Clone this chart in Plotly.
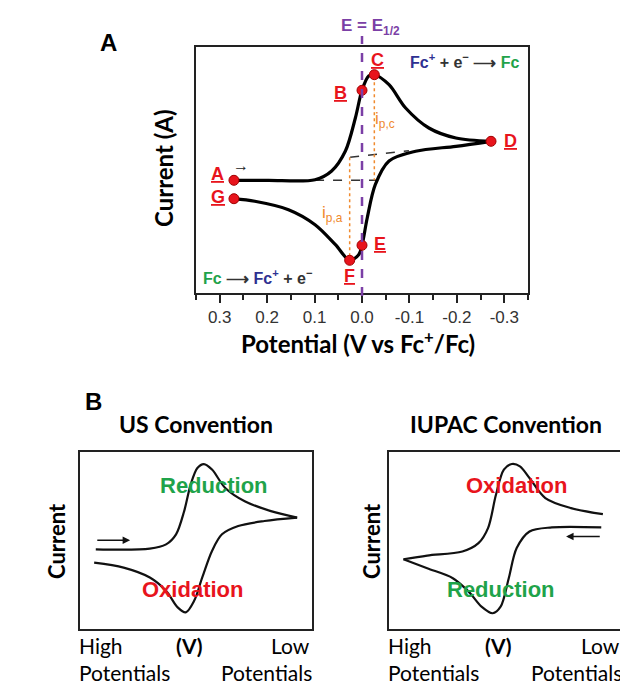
import plotly.graph_objects as go

W, H = 628, 687
def px(x): return x / W
def py(y): return 1 - y / H

# ---------------- Panel A data (potential in V vs Fc+/Fc, current arb. units) -------------
fwd_E = [0.270, 0.198, 0.099, 0.064, 0.035, 0.014, 0.0, -0.014, -0.026, -0.057, -0.092, -0.141, -0.198, -0.272]
fwd_I = [0.0, 0.0, 0.06, 0.93, 2.93, 6.23, 9.0, 10.43, 10.56, 9.56, 7.23, 5.23, 4.23, 3.9]
rev_E = [-0.272, -0.198, -0.113, -0.057, -0.028, -0.011, 0.0, 0.007, 0.026, 0.056, 0.099, 0.155, 0.226, 0.270]
rev_I = [3.9, 3.4, 2.9, 1.93, -0.44, -3.77, -6.5, -7.44, -8.0, -6.44, -4.44, -2.94, -2.1, -1.84]

pt_names = ["A", "B", "C", "D", "E", "F", "G"]
pt_E = [0.270, 0.0, -0.026, -0.272, 0.0, 0.026, 0.270]
pt_I = [0.0, 9.0, 10.56, 3.9, -6.5, -8.0, -1.84]

base_fwd_E = [0.099, -0.032]
base_fwd_I = [0.0, 0.0]
base_rev_E = [0.025, -0.099]
base_rev_I = [2.3, 2.96]
ipc_E, ipc_I = [-0.026, -0.026], [10.4, 0.0]
ipa_E, ipa_I = [0.026, 0.026], [2.3, -8.0]
E_half = 0.0

tick_vals = [0.3, 0.2, 0.1, 0.0, -0.1, -0.2, -0.3]
tick_text = ["0.3", "0.2", "0.1", "0.0", "-0.1", "-0.2", "-0.3"]

# ---------------- Panel B data (normalised sketch coordinates) ----------------
us_fwd_u = [0.068, 0.301, 0.371, 0.414, 0.449, 0.477, 0.506, 0.534, 0.569, 0.626, 0.710, 0.823, 0.936]
us_fwd_v = [0.450, 0.454, 0.478, 0.535, 0.666, 0.816, 0.910, 0.932, 0.901, 0.797, 0.722, 0.666, 0.629]
us_rev_u = [0.936, 0.795, 0.682, 0.612, 0.569, 0.527, 0.492, 0.456, 0.421, 0.371, 0.301, 0.188, 0.061]
us_rev_v = [0.629, 0.610, 0.582, 0.535, 0.441, 0.291, 0.159, 0.094, 0.122, 0.216, 0.291, 0.347, 0.375]

iu_up_u = [0.918, 0.781, 0.671, 0.603, 0.562, 0.527, 0.493, 0.459, 0.425, 0.384, 0.315, 0.164, 0.062]
iu_up_v = [0.649, 0.683, 0.740, 0.853, 0.919, 0.932, 0.900, 0.758, 0.570, 0.485, 0.438, 0.415, 0.394]
iu_lo_u = [0.062, 0.164, 0.274, 0.342, 0.397, 0.445, 0.479, 0.514, 0.548, 0.603, 0.699, 0.911]
iu_lo_v = [0.394, 0.343, 0.287, 0.211, 0.126, 0.089, 0.126, 0.287, 0.457, 0.551, 0.574, 0.574]

# ---------------- styles ----------------
ARIAL = "Liberation Sans, Arial, sans-serif"
CALIBRI = "Lato, Open Sans, sans-serif"
RED = "#e8141c"
GREEN = "#1fa34a"
BLUE = "#2e3192"
PURPLE = "#7b3fa6"
ORANGE = "#f08a2e"

fig = go.Figure()

# Panel A traces
for xs, ys in [(base_fwd_E, base_fwd_I), (base_rev_E, base_rev_I)]:
    fig.add_trace(go.Scatter(x=xs, y=ys, mode="lines", xaxis="x", yaxis="y",
                             line=dict(color="#333333", width=1.5, dash="dash"), showlegend=False))
for xs, ys in [(ipc_E, ipc_I), (ipa_E, ipa_I)]:
    fig.add_trace(go.Scatter(x=xs, y=ys, mode="lines", xaxis="x", yaxis="y",
                             line=dict(color=ORANGE, width=1.5, dash="dot"), showlegend=False))
for xs, ys in [(fwd_E, fwd_I), (rev_E, rev_I)]:
    fig.add_trace(go.Scatter(x=xs, y=ys, mode="lines", xaxis="x", yaxis="y",
                             line=dict(color="black", width=3.2, shape="spline", smoothing=0.9),
                             showlegend=False))
fig.add_trace(go.Scatter(x=pt_E, y=pt_I, mode="markers", xaxis="x", yaxis="y",
                         marker=dict(color=RED, size=10, line=dict(color="#a00000", width=1)),
                         showlegend=False))

# Panel B traces
for xs, ys, ax in [(us_fwd_u, us_fwd_v, "x2"), (us_rev_u, us_rev_v, "x2"),
                   (iu_up_u, iu_up_v, "x3"), (iu_lo_u, iu_lo_v, "x3")]:
    fig.add_trace(go.Scatter(x=xs, y=ys, mode="lines", xaxis=ax, yaxis=ax.replace("x", "y"),
                             line=dict(color="#111111", width=2.2, shape="spline", smoothing=0.9),
                             showlegend=False))

box_axis = dict(showline=True, mirror=True, linecolor="#222222", linewidth=2,
                showticklabels=False, ticks="", showgrid=False, zeroline=False, fixedrange=True)

A_l, A_r, A_t, A_b = 188, 520, 39, 285
US_l, US_r, B_t, B_b = 72, 304, 444, 621
IU_l, IU_r = 381, 614

fig.update_layout(
    width=W, height=H, margin=dict(l=0, r=0, t=0, b=0),
    paper_bgcolor="white", plot_bgcolor="white",
    xaxis=dict(domain=[px(A_l), px(A_r)], anchor="y", range=[0.35, -0.35], showline=True, mirror=True,
               linecolor="#222222", linewidth=2, ticks="outside", ticklen=8, tickwidth=1.5,
               tickcolor="#222222", tickvals=tick_vals, ticktext=tick_text,
               tickfont=dict(family=ARIAL, size=17, color="#333333"),
               minor=dict(ticks="outside", ticklen=5, tickwidth=1.5, tickcolor="#222222", dtick=0.05, tick0=0.05),
               showgrid=False, zeroline=False),
    yaxis=dict(domain=[py(A_b), py(A_t)], anchor="x", range=[-11.27, 13.33], showline=True, mirror=True,
               linecolor="#222222", linewidth=2, showticklabels=False, ticks="",
               showgrid=False, zeroline=False),
    xaxis2=dict(domain=[px(US_l), px(US_r)], anchor="y2", range=[0, 1], **box_axis),
    yaxis2=dict(domain=[py(B_b), py(B_t)], anchor="x2", range=[0, 1], **box_axis),
    xaxis3=dict(domain=[px(IU_l), px(IU_r)], anchor="y3", range=[0, 1], **box_axis),
    yaxis3=dict(domain=[py(B_b), py(B_t)], anchor="x3", range=[0, 1], **box_axis),
)

# E = E1/2 dashed line
fig.add_shape(type="line", xref="x", yref="paper", x0=E_half, x1=E_half, y0=py(A_b + 3), y1=py(28),
              line=dict(color=PURPLE, width=2.5, dash="dash"))

ann = []
def txt(x, y, t, size, color="black", family=ARIAL, xref="paper", yref="paper", angle=0,
        xanchor="center", yanchor="middle", xshift=0, yshift=0):
    ann.append(dict(x=x, y=y, text=t, xref=xref, yref=yref, showarrow=False, textangle=angle,
                    font=dict(size=size, color=color, family=family), xanchor=xanchor,
                    yanchor=yanchor, xshift=xshift, yshift=yshift))

# point labels
offs = {"A": (-16, 6), "B": (-22, -3), "C": (3, 15), "D": (19, 0), "E": (18, 1), "F": (0, -16), "G": (-16, 2)}
for n, e, i in zip(pt_names, pt_E, pt_I):
    dx, dy = offs[n]
    txt(e, i, "<b><u>%s</u></b>" % n, 18, RED, xref="x", yref="y", xshift=dx, yshift=dy)

txt(px(100), py(35), "<b>A</b>", 24)
txt(px(85), py(393), "<b>B</b>", 24)
txt(E_half, py(19), "<b>E = E<sub>1/2</sub></b>", 17, PURPLE, xref="x", xshift=8)
txt(px(377), py(112), "i<sub>p,c</sub>", 17, ORANGE)
txt(px(324), py(206), "i<sub>p,a</sub>", 17, ORANGE)
txt(px(233), py(157), "→", 16, "#222222")
txt(px(457), py(53),
    "<b><span style='color:%s'>Fc<sup>+</sup></span> + e<sup>−</sup> ⟶ <span style='color:%s'>Fc</span></b>" % (BLUE, GREEN),
    16, "#333333")
txt(px(250), py(269),
    "<b><span style='color:%s'>Fc</span> ⟶ <span style='color:%s'>Fc<sup>+</sup></span> + e<sup>−</sup></b>" % (GREEN, BLUE),
    16, "#333333")
txt(px(155), py(160), "<b>Current (A)</b>", 24, family=CALIBRI, angle=-90)
txt(px(350), py(334), "<b>Potential (V vs Fc<sup>+</sup>/Fc)</b>", 24, family=CALIBRI)

# Panel B texts
txt((US_l + US_r) / 2 / W, py(416), "<b>US Convention</b>", 23, family=CALIBRI)
txt((IU_l + IU_r) / 2 / W, py(416), "<b>IUPAC Convention</b>", 23, family=CALIBRI)
txt(px(48), py(533), "<b>Current</b>", 22, family=CALIBRI, angle=-90)
txt(px(IU_l - 18), py(533), "<b>Current</b>", 22, family=CALIBRI, angle=-90)
txt(0.579, 0.811, "<b>Reduction</b>", 22, GREEN, xref="x2", yref="y2")
txt(0.484, 0.225, "<b>Oxidation</b>", 22, RED, xref="x2", yref="y2")
txt(0.548, 0.809, "<b>Oxidation</b>", 22, RED, xref="x3", yref="y3")
txt(0.479, 0.221, "<b>Reduction</b>", 22, GREEN, xref="x3", yref="y3")

for l, r in [(US_l, US_r), (IU_l, IU_r)]:
    txt(px(l - 3), py(637), "High", 21, family=CALIBRI, xanchor="left")
    txt(px(r), py(637), "Low", 21, family=CALIBRI, xanchor="right")
    txt(px(l + 0.47 * (r - l)), py(637), "<b>(V)</b>", 21, family=CALIBRI)
    txt(px(l - 3), py(664), "Potentials", 21, family=CALIBRI, xanchor="left")
    txt(px(r + 2), py(664), "Potentials", 21, family=CALIBRI, xanchor="right")

# arrows in panel B
ann.append(dict(x=0.216, y=0.501, ax=0.068, ay=0.501, xref="x2", yref="y2", axref="x2", ayref="y2",
                showarrow=True, arrowhead=2, arrowsize=1, arrowwidth=1.5, arrowcolor="#111111", text=""))
ann.append(dict(x=0.760, y=0.523, ax=0.911, ay=0.523, xref="x3", yref="y3", axref="x3", ayref="y3",
                showarrow=True, arrowhead=2, arrowsize=1, arrowwidth=1.5, arrowcolor="#111111", text=""))

fig.update_layout(annotations=ann)
fig.write_html("out.html")
